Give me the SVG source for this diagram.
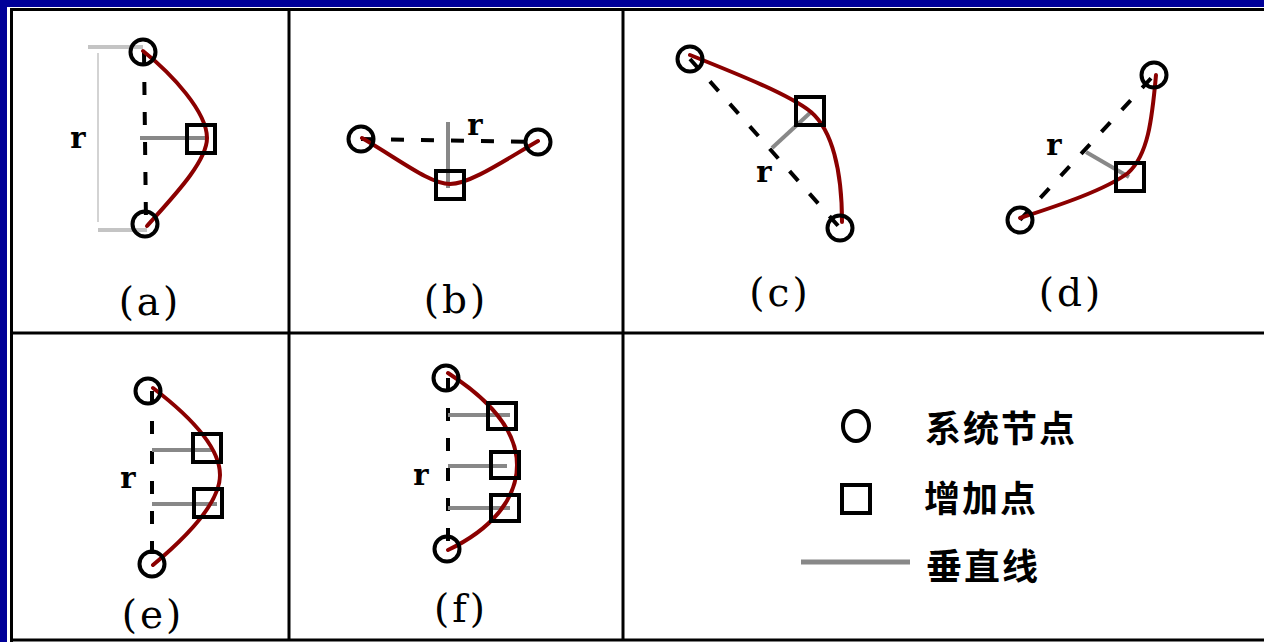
<svg xmlns="http://www.w3.org/2000/svg" width="1264" height="642" viewBox="0 0 1264 642">
<style>
.frame{stroke:#000;stroke-width:3;fill:none}
.node{fill:none;stroke:#000;stroke-width:4}
.sq{fill:none;stroke:#000;stroke-width:4}
.dash{stroke:#000;stroke-width:4;stroke-dasharray:13 17;fill:none}
.curve{stroke:#8b0000;stroke-width:4;fill:none;stroke-linecap:round}
.perp{stroke:#888;stroke-width:4;fill:none}
.lite{stroke:#c4c4c4;stroke-width:4;fill:none}
.thin{stroke:#c4c4c4;stroke-width:1.5;fill:none}
.cap{font-family:"DejaVu Serif","Liberation Serif",serif;font-size:39px;letter-spacing:3px;text-anchor:middle;fill:#000}
.r{font-family:"DejaVu Serif","Liberation Serif",serif;font-weight:bold;font-size:29px;text-anchor:middle;fill:#000}
.cjk{font-family:"Noto Sans CJK SC",sans-serif;font-weight:bold;font-size:36px;letter-spacing:2px;fill:#000}
</style>
<rect x="0" y="0" width="1264" height="642" fill="#000099"/>
<rect x="7" y="7" width="1257" height="635" fill="#fff"/>
<g id="grid">
<line class="frame" x1="11.5" y1="8" x2="11.5" y2="642"/>
<line class="frame" x1="10" y1="9.5" x2="1264" y2="9.5"/>
<line class="frame" x1="10" y1="640" x2="1264" y2="640"/>
<line class="frame" x1="289" y1="9" x2="289" y2="640"/>
<line class="frame" x1="623" y1="9" x2="623" y2="640"/>
<line class="frame" x1="11" y1="333" x2="1264" y2="333"/>
</g>
<g id="connectors">
<line class="dash" x1="144" y1="52" x2="146" y2="224"/>
<line class="dash" x1="361" y1="139" x2="538" y2="142"/>
<line class="dash" x1="690" y1="59" x2="840" y2="228"/>
<line class="dash" x1="1020" y1="220" x2="1154" y2="75"/>
<line class="dash" x1="152" y1="391" x2="152" y2="564"/>
<line class="dash" x1="448" y1="378" x2="448" y2="549"/>
<line class="lite" x1="88" y1="47" x2="143" y2="47"/>
<line class="lite" x1="98" y1="230" x2="147" y2="230"/>
<line class="thin" x1="98" y1="53" x2="98" y2="222"/>
<line class="perp" x1="140" y1="138" x2="205" y2="138"/>
<line class="perp" x1="448" y1="122" x2="448" y2="188"/>
<line class="perp" x1="772" y1="148" x2="811" y2="112"/>
<line class="perp" x1="1086" y1="152" x2="1129" y2="177"/>
<line class="perp" x1="152" y1="450" x2="213" y2="450"/>
<line class="perp" x1="152" y1="504" x2="217" y2="504"/>
<line class="perp" x1="448" y1="415" x2="510" y2="415"/>
<line class="perp" x1="448" y1="466" x2="507" y2="466"/>
<line class="perp" x1="448" y1="508" x2="510" y2="508"/>
<path class="curve" d="M143,51 C172,74 207,112 207,138 C207,162 172,198 147,226"/>
<path class="curve" d="M362,138 C400,160 430,184 450,184 C470,184 505,160 538,141"/>
<path class="curve" d="M690,55 C740,75 790,95 811,112 C832,130 842,170 842,222"/>
<path class="curve" d="M1020,218 C1060,205 1105,190 1128,173 C1148,155 1152,120 1156,75"/>
<path class="curve" d="M153,388 C195,420 220,450 220,475 C220,500 195,530 153,565"/>
<path class="curve" d="M448,373 C490,400 517,430 517,465 C517,500 490,530 448,550"/>
</g>
<g id="panel-a">
<circle class="node" cx="143" cy="52" r="12.5"/>
<circle class="node" cx="145" cy="224" r="12.5"/>
<rect class="sq" x="187" y="125" width="28" height="28"/>
<text class="r" x="78" y="148">r</text>
<text class="cap" x="150" y="315">(a)</text>
</g>
<g id="panel-b">
<circle class="node" cx="361" cy="139" r="12.5"/>
<circle class="node" cx="538" cy="142" r="12.5"/>
<rect class="sq" x="436" y="171" width="28" height="28"/>
<text class="r" x="475" y="135">r</text>
<text class="cap" x="456" y="313">(b)</text>
</g>
<g id="panel-c">
<circle class="node" cx="690" cy="59" r="12.5"/>
<circle class="node" cx="840" cy="228" r="12.5"/>
<rect class="sq" x="796" y="97" width="28" height="28"/>
<text class="r" x="764" y="182">r</text>
<text class="cap" x="780" y="306">(c)</text>
</g>
<g id="panel-d">
<circle class="node" cx="1154" cy="75" r="12.5"/>
<circle class="node" cx="1020" cy="220" r="12.5"/>
<rect class="sq" x="1116" y="163" width="28" height="28"/>
<text class="r" x="1054" y="155">r</text>
<text class="cap" x="1071" y="306">(d)</text>
</g>
<g id="panel-e">
<circle class="node" cx="148" cy="391" r="12.5"/>
<circle class="node" cx="152" cy="564" r="12.5"/>
<rect class="sq" x="193" y="434" width="28" height="28"/>
<rect class="sq" x="194" y="489" width="28" height="28"/>
<text class="r" x="128" y="488">r</text>
<text class="cap" x="153" y="628">(e)</text>
</g>
<g id="panel-f">
<circle class="node" cx="446" cy="378" r="12.5"/>
<circle class="node" cx="447" cy="549" r="12.5"/>
<rect class="sq" x="488" y="403" width="28" height="26"/>
<rect class="sq" x="491" y="452" width="28" height="26"/>
<rect class="sq" x="491" y="495" width="28" height="26"/>
<text class="r" x="421" y="485">r</text>
<text class="cap" x="461" y="622">(f)</text>
</g>
<g id="legend">
<ellipse class="node" cx="856" cy="426" rx="13" ry="15"/>
<text class="cjk" x="925" y="442">系统节点</text>
<rect class="sq" x="842" y="485" width="28" height="28"/>
<text class="cjk" x="924" y="512">增加点</text>
<line class="perp" x1="801" y1="562" x2="910" y2="562" style="stroke-width:5"/>
<text class="cjk" x="926" y="580">垂直线</text>
</g>
</svg>
